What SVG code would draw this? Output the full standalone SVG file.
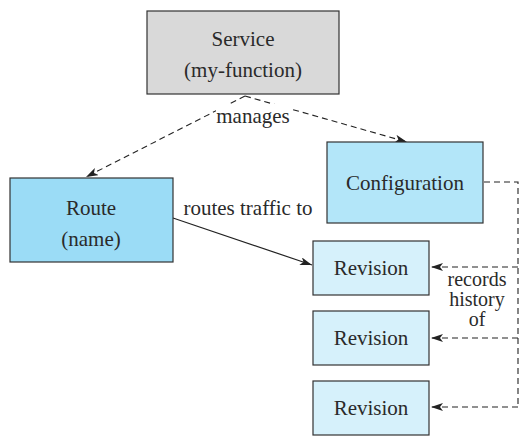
<svg xmlns="http://www.w3.org/2000/svg" width="524" height="447" viewBox="0 0 524 447">
<defs>
<style>
.box{stroke:#333;stroke-width:1.2}
.dash{fill:none;stroke:#222;stroke-width:1.1;stroke-dasharray:6,4}
.solid{fill:none;stroke:#222;stroke-width:1.2}
</style>
<marker id="ah" viewBox="0 0 12 8" refX="12" refY="4" markerWidth="12" markerHeight="8" markerUnits="userSpaceOnUse" orient="auto">
<path d="M0,0 L12,4 L0,8 L3,4 Z" fill="#222"/>
</marker>
</defs>
<rect width="524" height="447" fill="#fff"/>
<g id="connectors">
<path class="dash" d="M245,96 L86,177" marker-end="url(#ah)"/>
<path class="dash" d="M245,96 L407,142" marker-end="url(#ah)"/>
<path class="solid" d="M173,218 L312,265" marker-end="url(#ah)"/>
<path class="dash" d="M484,182 L518,182 L518,407"/>
<path class="dash" d="M518,267 L431,267" marker-end="url(#ah)"/>
<path class="dash" d="M518,338 L431,338" marker-end="url(#ah)"/>
<path class="dash" d="M518,407 L431,407" marker-end="url(#ah)"/>
<rect x="216" y="104" width="76" height="24" fill="#fff"/>
<text x="253" y="123" font-family="Times New Roman" font-size="21" fill="#2a2a2a" text-anchor="middle" style="font-family:'Times New Roman',serif">manages</text>
<text x="248" y="215" font-family="Times New Roman" font-size="21" fill="#2a2a2a" text-anchor="middle" style="font-family:'Times New Roman',serif">routes traffic to</text>
<rect x="446" y="270" width="62" height="60" fill="#fff"/>
<text x="477" y="286" font-family="Times New Roman" font-size="20" fill="#2a2a2a" text-anchor="middle" style="font-family:'Times New Roman',serif">records</text>
<text x="477" y="306" font-family="Times New Roman" font-size="20" fill="#2a2a2a" text-anchor="middle" style="font-family:'Times New Roman',serif">history</text>
<text x="477" y="326" font-family="Times New Roman" font-size="20" fill="#2a2a2a" text-anchor="middle" style="font-family:'Times New Roman',serif">of</text>
</g>
<g id="service">
<rect class="box" x="147" y="11" width="192" height="83" fill="#d9d9d9"/>
<text x="243" y="46" font-family="Times New Roman" font-size="21" fill="#2a2a2a" text-anchor="middle" style="font-family:'Times New Roman',serif">Service</text>
<text x="243" y="77" font-family="Times New Roman" font-size="21" fill="#2a2a2a" text-anchor="middle" style="font-family:'Times New Roman',serif">(my-function)</text>
</g>
<g id="route">
<rect class="box" x="10" y="178" width="163" height="84" fill="#9bdcf6"/>
<text x="91" y="215" font-family="Times New Roman" font-size="21" fill="#2a2a2a" text-anchor="middle" style="font-family:'Times New Roman',serif">Route</text>
<text x="91" y="246" font-family="Times New Roman" font-size="21" fill="#2a2a2a" text-anchor="middle" style="font-family:'Times New Roman',serif">(name)</text>
</g>
<g id="configuration">
<rect class="box" x="327" y="142" width="156" height="81" fill="#b3e6f9"/>
<text x="405" y="190" font-family="Times New Roman" font-size="21" fill="#2a2a2a" text-anchor="middle" style="font-family:'Times New Roman',serif">Configuration</text>
</g>
<g id="revision1">
<rect class="box" x="313" y="241" width="116" height="54" fill="#d6f1fb"/>
<text x="371" y="275" font-family="Times New Roman" font-size="21" fill="#2a2a2a" text-anchor="middle" style="font-family:'Times New Roman',serif">Revision</text>
</g>
<g id="revision2">
<rect class="box" x="313" y="311" width="116" height="54" fill="#d6f1fb"/>
<text x="371" y="345" font-family="Times New Roman" font-size="21" fill="#2a2a2a" text-anchor="middle" style="font-family:'Times New Roman',serif">Revision</text>
</g>
<g id="revision3">
<rect class="box" x="313" y="381" width="116" height="54" fill="#d6f1fb"/>
<text x="371" y="415" font-family="Times New Roman" font-size="21" fill="#2a2a2a" text-anchor="middle" style="font-family:'Times New Roman',serif">Revision</text>
</g>
</svg>
